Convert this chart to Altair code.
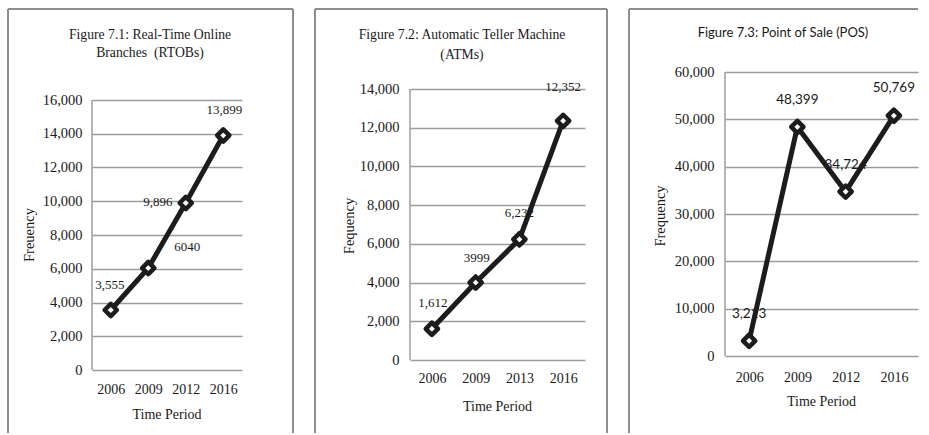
import altair as alt
import pandas as pd

# ---- data -----------------------------------------------------------------
RTOB_YEARS = ["2006", "2009", "2012", "2016"]
RTOB_VALUES = [3555, 6040, 9896, 13899]
RTOB_LABELS = ["3,555", "6040", "9,896", "13,899"]
RTOB_TICKS = [0, 2000, 4000, 6000, 8000, 10000, 12000, 14000, 16000]

ATM_YEARS = ["2006", "2009", "2013", "2016"]
ATM_VALUES = [1612, 3999, 6232, 12352]
ATM_LABELS = ["1,612", "3999", "6,232", "12,352"]
ATM_TICKS = [0, 2000, 4000, 6000, 8000, 10000, 12000, 14000]

POS_YEARS = ["2006", "2009", "2012", "2016"]
POS_VALUES = [3213, 48399, 34724, 50769]
POS_LABELS = ["3,213", "48,399", "34,724", "50,769"]
POS_TICKS = [0, 10000, 20000, 30000, 40000, 50000, 60000]

# ---- styling ----------------------------------------------------------------
SERIF = "Liberation Serif"
SANS = "Lato"
INK = "#1a1a1a"
LINE = "#1c1c1c"
GRID = "#9c9c9c"
FRAME = "#8e8e8e"

ONE = pd.DataFrame({"k": [0]})


def text_at(txt, x, y, font, size, angle=0):
    mark = alt.Chart(ONE).mark_text(
        text=txt, font=font, fontSize=size, color=INK,
        align="center", baseline="middle", angle=angle,
    )
    return mark.encode(x=alt.value(x), y=alt.value(y))


def panel(years, values, labels, ticks, *, width, height, top_gap,
          frame_left, frame_right, frame_top, frame_bottom,
          title_lines, title_x, title_ys, title_font, title_size,
          y_title, y_title_pos, x_title_pos,
          label_font, label_size, nudges, x_pad, y_pad):
    df = pd.DataFrame({"year": years, "v": values, "label": labels})
    dmax = ticks[-1] * height / (height - top_gap)

    x_enc = alt.X(
        "year:N", sort=None,
        scale=alt.Scale(type="point", padding=0.5, domain=years),
        axis=alt.Axis(
            title=None, ticks=False, domain=False, grid=False,
            labelFont=SERIF, labelFontSize=14, labelColor=INK,
            labelPadding=x_pad, labelAngle=0,
        ),
    )
    y_enc = alt.Y(
        "v:Q",
        scale=alt.Scale(domain=[0, dmax], nice=False, zero=True),
        axis=alt.Axis(
            title=None, values=ticks, tickCount=40, format=",.0f",
            ticks=False, domain=False,
            grid=True, gridColor=GRID, gridWidth=1.5, labelOverlap=False,
            labelFont=SERIF, labelFontSize=14.5, labelColor=INK,
            labelPadding=y_pad,
        ),
    )

    base = alt.Chart(df).encode(x=x_enc, y=y_enc)

    # vertical value axis line, from zero to the top tick
    axis_line = alt.Chart(ONE).mark_rule(color=GRID, strokeWidth=1.5).encode(
        x=alt.value(0), y=alt.datum(0), y2=alt.datum(ticks[-1])
    )

    # value labels, each nudged where it sits (the line is drawn over them)
    label_layers = []
    for i, (dx, dy) in enumerate(nudges):
        label_layers.append(
            alt.Chart(df.iloc[[i]]).mark_text(
                font=label_font, fontSize=label_size, color=INK,
                align="center", baseline="middle", dx=dx, dy=dy,
            ).encode(x=x_enc, y=y_enc, text="label:N")
        )

    line = base.mark_line(color=LINE, strokeWidth=5, strokeJoin="round")
    points = base.mark_point(
        shape="diamond", size=150, filled=True, fill="white", fillOpacity=1,
        stroke=LINE, strokeWidth=4.5, opacity=1, strokeJoin="round",
    )

    # chart-area frame: left, top and (optionally) right edges
    frame = [
        alt.Chart(ONE).mark_rule(color=FRAME, strokeWidth=2).encode(
            x=alt.value(frame_left), y=alt.value(frame_top),
            y2=alt.value(frame_bottom)),
        alt.Chart(ONE).mark_rule(color=FRAME, strokeWidth=2).encode(
            x=alt.value(frame_left),
            x2=alt.value(frame_right if frame_right is not None else width),
            y=alt.value(frame_top)),
    ]
    if frame_right is not None:
        frame.append(
            alt.Chart(ONE).mark_rule(color=FRAME, strokeWidth=2).encode(
                x=alt.value(frame_right), y=alt.value(frame_top),
                y2=alt.value(frame_bottom))
        )

    titles = [text_at(t, title_x, ty, title_font, title_size)
              for t, ty in zip(title_lines, title_ys)]
    titles.append(text_at(y_title, y_title_pos[0], y_title_pos[1], SERIF, 14.5, angle=270))
    titles.append(text_at("Time Period", x_title_pos[0], x_title_pos[1], SERIF, 14))

    layers = [axis_line] + label_layers + [line, points] + frame + titles
    return alt.layer(*layers).properties(width=width, height=height)


p1 = panel(
    RTOB_YEARS, RTOB_VALUES, RTOB_LABELS, RTOB_TICKS,
    width=150, height=298, top_gap=28,
    frame_left=-84, frame_right=201, frame_top=-63, frame_bottom=361,
    title_lines=["Figure 7.1: Real-Time Online", "Branches \u00a0(RTOBs)"],
    title_x=58, title_ys=[-37, -19], title_font=SERIF, title_size=13.7,
    y_title="Freuency", y_title_pos=(-62, 163), x_title_pos=(75, 343),
    label_font=SERIF, label_size=13,
    nudges=[(-1, -25), (39, -21), (-28, -1), (1, -25)],
    x_pad=12, y_pad=10,
)

p2 = panel(
    ATM_YEARS, ATM_VALUES, ATM_LABELS, ATM_TICKS,
    width=175, height=288, top_gap=17,
    frame_left=-95, frame_right=197, frame_top=-63, frame_bottom=361,
    title_lines=["Figure 7.2: Automatic Teller Machine", "(ATMs)"],
    title_x=52, title_ys=[-37, -17], title_font=SERIF, title_size=13.7,
    y_title="Fequency", y_title_pos=(-60, 154), x_title_pos=(87.5, 335),
    label_font=SERIF, label_size=13,
    nudges=[(1, -26), (1, -25), (0, -26), (0, -34)],
    x_pad=11, y_pad=11,
)

p3 = panel(
    POS_YEARS, POS_VALUES, POS_LABELS, POS_TICKS,
    width=193, height=284, top_gap=0,
    frame_left=-96, frame_right=None, frame_top=-63, frame_bottom=361,
    title_lines=["Figure 7.3: Point of Sale (POS)"],
    title_x=58, title_ys=[-39], title_font=SANS, title_size=13,
    y_title="Frequency", y_title_pos=(-64, 144), x_title_pos=(96.5, 330),
    label_font=SANS, label_size=13.5,
    nudges=[(0, -27), (0, -27), (0, -27), (0, -28)],
    x_pad=14, y_pad=11,
)

chart = (
    alt.hconcat(p1, p2, p3, spacing=20)
    .properties(padding={"left": 7, "top": 8, "right": 8, "bottom": 0},
                background="white")
    .configure_view(stroke=None)
)

chart.save("out.html", embed_options={"renderer": "svg", "actions": False})
